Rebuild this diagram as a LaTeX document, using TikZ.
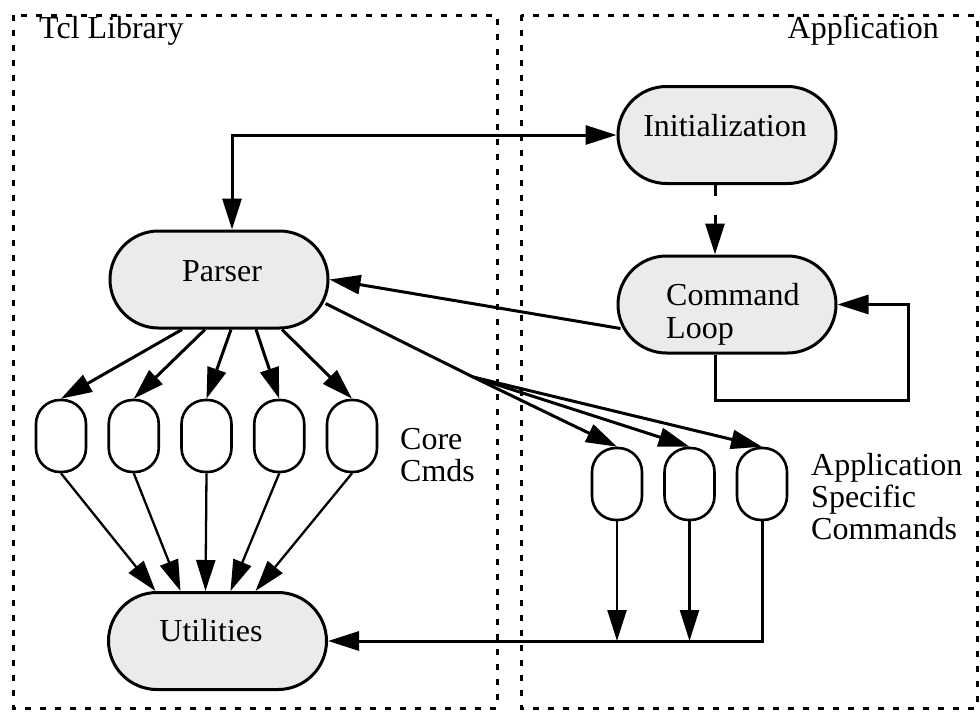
\documentclass[tikz,border=0pt]{standalone}
\usepackage{fontspec}
\setmainfont{Liberation Serif}
\usetikzlibrary{arrows.meta,shapes.misc}
\begin{document}
\begin{tikzpicture}[x=1pt,y=-1pt,
  >={Triangle[length=31pt,width=19pt]},
  frame/.style={line width=3pt,dash pattern=on 6pt off 9pt},
  conn/.style={line width=3pt,->},
  thinconn/.style={line width=2.3pt,->},
  bignode/.style={rounded rectangle,draw,line width=3pt,fill=black!8,
    minimum width=218pt,minimum height=97pt,inner sep=0pt},
  pill/.style={rectangle,rounded corners=24pt,draw,line width=2.6pt,fill=white,
    minimum width=50pt,minimum height=72pt,inner sep=0pt},
  txt/.style={font=\fontsize{32}{33}\selectfont,inner sep=0pt}]

\fill[white] (0,0) rectangle (980,712);
\useasboundingbox (0,0) rectangle (980,712);

% the two domains
\draw[frame] (13,15) rectangle (497,708);
\draw[frame] (521,15) rectangle (977,708);
\node[txt,anchor=base west] (tcltitle) at (39,38) {Tcl Library};
\node[txt,anchor=base east] (apptitle) at (939,38) {Application};

% main blocks
\node[bignode] (parser) at (219,279.5) {};
\node[txt,anchor=base] (parsertxt) at (222,281) {Parser};
\node[bignode] (init) at (727,135) {};
\node[txt,anchor=base] (inittxt) at (725,136) {Initialization};
\node[bignode] (cmd) at (727,304.5) {};
\node[txt,anchor=base west] (cmdtxta) at (666,305) {Command};
\node[txt,anchor=base west] (cmdtxtb) at (666,338) {Loop};
\node[bignode] (util) at (217.5,641) {};
\node[txt,anchor=base] (utiltxt) at (211,641) {Utilities};

% core commands
\foreach \i in {1,...,5}
  \node[pill] (core\i) at ({61+72.75*(\i-1)},436) {};
\node[txt,anchor=base west] (coretxta) at (400,449) {Core};
\node[txt,anchor=base west] (coretxtb) at (400,481) {Cmds};

% application specific commands
\foreach \i in {1,2,3}
  \node[pill] (app\i) at ({617+72.5*(\i-1)},484) {};
\node[txt,anchor=base west] (apptxta) at (811,475) {Application};
\node[txt,anchor=base west] (apptxtb) at (811,507) {Specific};
\node[txt,anchor=base west] (apptxtc) at (811,539) {Commands};

% connections
\draw[conn,<->] ([xshift=13pt]parser.north) |- (init.west);
\draw[conn,dash pattern=on 11pt off 19pt on 300pt]
  ([xshift=-12pt]init.south) -- ([xshift=-12pt]cmd.north);
\coordinate (loopcorner) at (908,400);
\draw[conn] ([xshift=-12pt]cmd.south) |- (loopcorner) |- (cmd.east);
\draw[conn] ([shift={(4pt,-24pt)}]cmd.west) -- (parser.east);

\foreach \i/\dx in {1/-37,2/-14,3/12,4/37,5/63}
  \draw[conn] ([xshift=\dx pt]parser.south) -- (core\i.north);
\foreach \i/\dx in {1/-62,2/-37,3/-12,4/13,5/38}
  \draw[thinconn] (core\i.south) -- ([xshift=\dx pt]util.north);

\coordinate (fork) at (473,377);
\draw[line width=3pt] ([shift={(-4pt,-24pt)}]parser.east) -- (fork);
\foreach \i in {1,2,3}
  \draw[conn] (fork) -- (app\i.north);

\draw[conn] (app3.south) |- (util.east);
\draw[thinconn] (app1.south) -- (app1.south |- util.east);
\draw[thinconn] (app2.south) -- (app2.south |- util.east);
\end{tikzpicture}
\end{document}
